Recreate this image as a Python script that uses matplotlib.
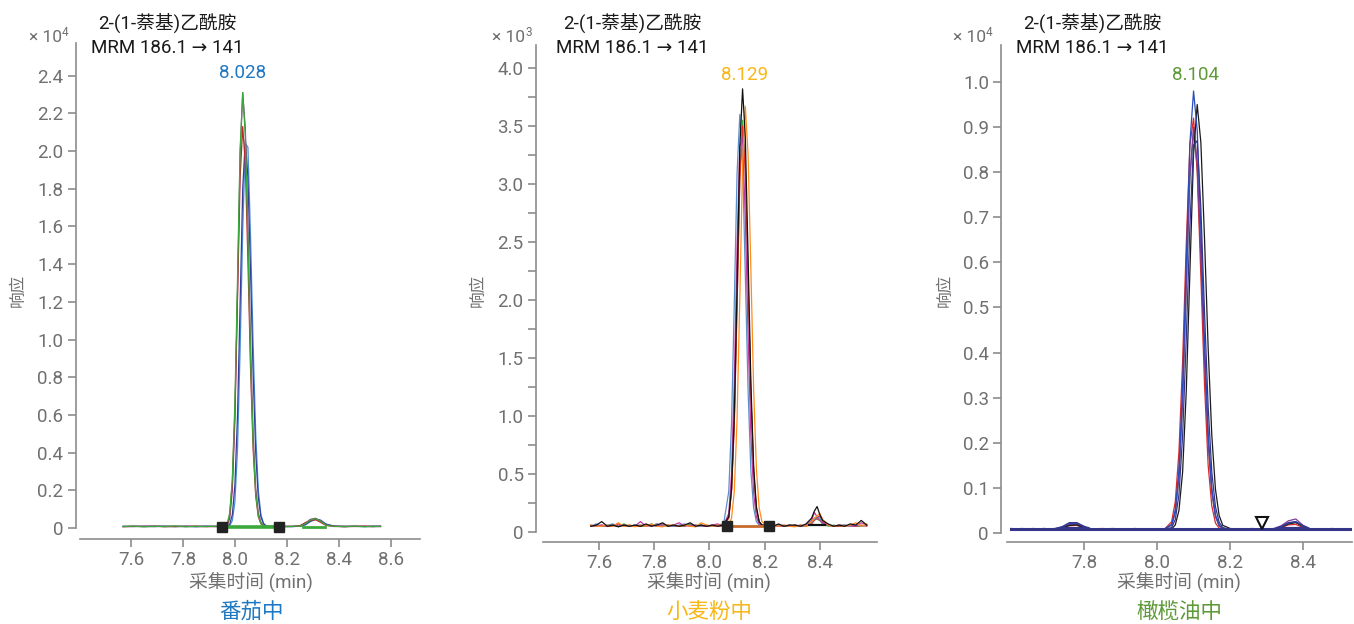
import matplotlib
matplotlib.use("Agg")
import matplotlib.pyplot as plt
import matplotlib.transforms as mtransforms
from matplotlib.ticker import FixedLocator, FuncFormatter

plt.rcParams["font.family"] = ["Roboto", "Noto Sans", "DejaVu Sans", "Noto Sans CJK SC"]

W, H = 1354, 624

compound = "2-(1-萘基)乙酰胺"
mrm = "MRM 186.1 → 141"
matrices = ["番茄中", "小麦粉中", "橄榄油中"]
matrix_colors = ["#1f78c1", "#f8b718", "#5f9a38"]
rts = [8.028, 8.129, 8.104]
exponents = ["4", "3", "4"]

# ---- panel 1: tomato (x 10^4) ----
t1 = [7.57, 7.61, 7.65, 7.69, 7.73, 7.77, 7.81, 7.85, 7.89, 7.93,
      7.95, 7.96, 7.97, 7.98, 7.99, 8.00, 8.01, 8.02, 8.03, 8.04,
      8.05, 8.06, 8.07, 8.08, 8.09, 8.10, 8.11, 8.12, 8.13,
      8.16, 8.19, 8.22,
      8.25, 8.27, 8.29, 8.31, 8.33, 8.35,
      8.38, 8.42, 8.46, 8.50, 8.53, 8.56]
p1_lightblue = [0.009, 0.008, 0.009, 0.010, 0.008, 0.009, 0.008, 0.009, 0.010, 0.008,
                0.008, 0.008, 0.008, 0.012, 0.040, 0.140, 0.420, 0.950, 1.580, 2.040,
                2.020, 1.550, 0.980, 0.500, 0.200, 0.070, 0.025, 0.012, 0.009,
                0.008, 0.009, 0.008,
                0.010, 0.016, 0.034, 0.047, 0.042, 0.022,
                0.011, 0.008, 0.009, 0.008, 0.009, 0.010]
p1_darkblue = [0.008, 0.009, 0.008, 0.008, 0.010, 0.008, 0.009, 0.007, 0.009, 0.008,
               0.008, 0.008, 0.009, 0.020, 0.070, 0.230, 0.600, 1.190, 1.800, 2.060,
               1.860, 1.370, 0.820, 0.400, 0.160, 0.060, 0.022, 0.011, 0.008,
               0.009, 0.008, 0.008,
               0.009, 0.018, 0.036, 0.046, 0.040, 0.020,
               0.010, 0.008, 0.009, 0.008, 0.010, 0.008]
p1_purple = [0.009, 0.008, 0.010, 0.008, 0.009, 0.007, 0.010, 0.008, 0.009, 0.008,
             0.008, 0.008, 0.012, 0.050, 0.200, 0.580, 1.250, 1.980, 2.310, 2.120,
             1.600, 0.980, 0.500, 0.210, 0.080, 0.030, 0.013, 0.009, 0.008,
             0.008, 0.009, 0.008,
             0.011, 0.024, 0.046, 0.052, 0.038, 0.017,
             0.008, 0.010, 0.008, 0.009, 0.007, 0.009]
p1_red = [0.007, 0.009, 0.008, 0.010, 0.007, 0.009, 0.008, 0.010, 0.007, 0.009,
          0.008, 0.009, 0.015, 0.070, 0.240, 0.620, 1.230, 1.860, 2.130, 1.930,
          1.420, 0.850, 0.420, 0.170, 0.060, 0.022, 0.011, 0.008, 0.008,
          0.010, 0.008, 0.009,
          0.012, 0.028, 0.040, 0.044, 0.030, 0.014,
          0.009, 0.007, 0.009, 0.010, 0.008, 0.009]
p1_green = [0.008, 0.010, 0.007, 0.009, 0.008, 0.011, 0.007, 0.009, 0.008, 0.010,
            0.008, 0.009, 0.020, 0.080, 0.260, 0.670, 1.330, 2.010, 2.310, 2.080,
            1.530, 0.910, 0.450, 0.180, 0.065, 0.025, 0.012, 0.009, 0.008,
            0.009, 0.007, 0.009,
            0.010, 0.022, 0.042, 0.050, 0.036, 0.016,
            0.009, 0.008, 0.010, 0.007, 0.009, 0.008]
p1_traces = [p1_lightblue, p1_darkblue, p1_purple, p1_red, p1_green]
p1_colors = ["#4a8fd6", "#30409a", "#8e3f8e", "#c0282d", "#3aa83a"]
p1_int = [7.95, 8.17]
p1_bump_int = [8.26, 8.345]
p1_base = 0.008

# ---- panel 2: wheat flour (x 10^3) ----
t2 = [7.57, 7.59, 7.61, 7.63, 7.65, 7.67, 7.69, 7.71, 7.73, 7.75,
      7.77, 7.79, 7.81, 7.83, 7.85, 7.87, 7.89, 7.91, 7.93, 7.95,
      7.97, 7.99, 8.01, 8.03, 8.05,
      8.07, 8.08, 8.09, 8.10, 8.11, 8.12, 8.13, 8.14, 8.15, 8.16, 8.17, 8.18, 8.19,
      8.21, 8.23, 8.25, 8.27, 8.29, 8.31, 8.33, 8.35, 8.37, 8.38,
      8.39, 8.40, 8.41, 8.43, 8.45, 8.47, 8.49, 8.51, 8.53, 8.55, 8.57]
p2_green = [0.05, 0.06, 0.05, 0.05, 0.06, 0.05, 0.07, 0.05, 0.06, 0.05,
            0.05, 0.07, 0.05, 0.06, 0.05, 0.06, 0.05, 0.05, 0.07, 0.05,
            0.06, 0.05, 0.05, 0.06, 0.07,
            0.13, 0.37, 0.95, 1.97, 3.08, 3.55, 3.15, 2.18, 1.20, 0.53, 0.20, 0.09, 0.06,
            0.05, 0.05, 0.06, 0.05, 0.05, 0.06, 0.05, 0.05, 0.08, 0.12,
            0.11, 0.10, 0.07, 0.05, 0.06, 0.05, 0.05, 0.06, 0.05, 0.05, 0.06]
p2_red = [0.06, 0.05, 0.06, 0.05, 0.05, 0.07, 0.05, 0.06, 0.05, 0.05,
          0.06, 0.05, 0.07, 0.05, 0.06, 0.05, 0.05, 0.06, 0.05, 0.06,
          0.05, 0.05, 0.06, 0.05, 0.05,
          0.12, 0.35, 0.93, 1.94, 3.03, 3.50, 3.10, 2.15, 1.18, 0.52, 0.20, 0.09, 0.06,
          0.05, 0.06, 0.05, 0.05, 0.06, 0.05, 0.06, 0.05, 0.07, 0.10,
          0.12, 0.14, 0.09, 0.06, 0.05, 0.05, 0.06, 0.05, 0.05, 0.06, 0.05]
p2_blue = [0.05, 0.07, 0.05, 0.06, 0.07, 0.05, 0.06, 0.05, 0.06, 0.06,
           0.05, 0.06, 0.07, 0.05, 0.06, 0.05, 0.06, 0.07, 0.05, 0.06,
           0.05, 0.06, 0.05, 0.06, 0.05,
           0.35, 0.94, 1.97, 3.09, 3.60, 3.19, 2.21, 1.22, 0.53, 0.21, 0.09, 0.06, 0.05,
           0.06, 0.05, 0.06, 0.05, 0.06, 0.05, 0.06, 0.05, 0.08, 0.11,
           0.13, 0.12, 0.08, 0.06, 0.05, 0.06, 0.06, 0.05, 0.06, 0.05, 0.06]
p2_magenta = [0.05, 0.05, 0.06, 0.05, 0.06, 0.05, 0.06, 0.05, 0.05, 0.09,
              0.05, 0.06, 0.05, 0.07, 0.05, 0.06, 0.08, 0.05, 0.06, 0.05,
              0.06, 0.05, 0.06, 0.07, 0.05,
              0.16, 0.50, 1.30, 2.45, 3.32, 3.40, 2.70, 1.70, 0.85, 0.34, 0.13, 0.07, 0.05,
              0.05, 0.06, 0.05, 0.06, 0.05, 0.06, 0.05, 0.06, 0.10, 0.17,
              0.13, 0.10, 0.08, 0.06, 0.05, 0.06, 0.05, 0.06, 0.05, 0.08, 0.06]
p2_orange = [0.06, 0.05, 0.05, 0.06, 0.05, 0.08, 0.05, 0.06, 0.045, 0.06,
             0.05, 0.07, 0.05, 0.045, 0.06, 0.06, 0.05, 0.06, 0.05, 0.045,
             0.08, 0.06, 0.05, 0.06, 0.05,
             0.06, 0.12, 0.35, 0.97, 2.01, 3.17, 3.67, 3.25, 2.27, 1.24, 0.55, 0.21, 0.09,
             0.05, 0.06, 0.05, 0.06, 0.05, 0.045, 0.06, 0.05, 0.09, 0.12,
             0.14, 0.16, 0.11, 0.06, 0.05, 0.06, 0.05, 0.06, 0.08, 0.05, 0.07]
p2_black = [0.05, 0.06, 0.09, 0.05, 0.06, 0.045, 0.06, 0.05, 0.06, 0.05,
            0.07, 0.05, 0.06, 0.08, 0.05, 0.06, 0.05, 0.06, 0.08, 0.05,
            0.06, 0.05, 0.06, 0.05, 0.06,
            0.13, 0.37, 1.00, 2.10, 3.32, 3.82, 3.40, 2.37, 1.29, 0.57, 0.22, 0.09, 0.06,
            0.06, 0.05, 0.07, 0.05, 0.06, 0.06, 0.05, 0.07, 0.12, 0.18,
            0.22, 0.15, 0.10, 0.07, 0.05, 0.06, 0.05, 0.07, 0.06, 0.10, 0.06]
p2_traces = [p2_green, p2_red, p2_blue, p2_magenta, p2_orange, p2_black]
p2_colors = ["#3aa83a", "#e0302a", "#5b8fc9", "#c0399f", "#ff8c1a", "#111111"]
p2_int = [8.065, 8.215]
p2_bump_int = [8.36, 8.42]
p2_base = 0.05

# ---- panel 3: olive oil (x 10^4) ----
t3 = [7.60, 7.63, 7.66, 7.69, 7.72, 7.74, 7.76, 7.78, 7.80, 7.82,
      7.85, 7.88, 7.91, 7.94, 7.97, 8.00, 8.02,
      8.04, 8.05, 8.06, 8.07, 8.08, 8.09, 8.10, 8.11, 8.12, 8.13,
      8.14, 8.15, 8.16, 8.17, 8.18,
      8.20, 8.23, 8.26, 8.29, 8.32, 8.34, 8.36, 8.38, 8.40, 8.42,
      8.45, 8.48, 8.51, 8.53]
p3_green = [0.008, 0.009, 0.008, 0.009, 0.009, 0.012, 0.018, 0.020, 0.013, 0.008,
            0.009, 0.010, 0.008, 0.009, 0.008, 0.008, 0.009,
            0.017, 0.046, 0.126, 0.294, 0.543, 0.786, 0.890, 0.811, 0.611, 0.384,
            0.202, 0.090, 0.037, 0.016, 0.010,
            0.009, 0.008, 0.009, 0.009, 0.008, 0.013, 0.021, 0.024, 0.015, 0.008,
            0.009, 0.008, 0.009, 0.008]
p3_red = [0.009, 0.008, 0.010, 0.008, 0.008, 0.012, 0.016, 0.017, 0.011, 0.008,
          0.010, 0.008, 0.009, 0.009, 0.008, 0.009, 0.008,
          0.025, 0.070, 0.180, 0.380, 0.640, 0.860, 0.920, 0.800, 0.570, 0.330,
          0.150, 0.060, 0.022, 0.011, 0.008,
          0.008, 0.009, 0.008, 0.010, 0.008, 0.012, 0.018, 0.019, 0.012, 0.009,
          0.008, 0.010, 0.008, 0.009]
p3_purple = [0.008, 0.010, 0.008, 0.009, 0.008, 0.012, 0.019, 0.020, 0.013, 0.009,
             0.008, 0.009, 0.008, 0.010, 0.008, 0.009, 0.008,
             0.018, 0.047, 0.128, 0.298, 0.549, 0.795, 0.900, 0.820, 0.618, 0.389,
             0.204, 0.091, 0.037, 0.016, 0.010,
             0.009, 0.008, 0.009, 0.008, 0.010, 0.016, 0.027, 0.031, 0.017, 0.009,
             0.008, 0.009, 0.008, 0.009]
p3_black = [0.008, 0.009, 0.008, 0.010, 0.008, 0.011, 0.017, 0.018, 0.012, 0.008,
            0.009, 0.008, 0.009, 0.008, 0.009, 0.008, 0.008,
            0.009, 0.018, 0.050, 0.135, 0.314, 0.580, 0.840, 0.950, 0.866, 0.653,
            0.410, 0.216, 0.097, 0.039, 0.017,
            0.010, 0.008, 0.009, 0.008, 0.009, 0.013, 0.020, 0.023, 0.014, 0.008,
            0.009, 0.008, 0.009, 0.008]
p3_blue = [0.010, 0.008, 0.009, 0.007, 0.009, 0.013, 0.021, 0.022, 0.014, 0.009,
           0.008, 0.009, 0.007, 0.008, 0.009, 0.008, 0.009,
           0.019, 0.051, 0.139, 0.324, 0.598, 0.865, 0.980, 0.893, 0.674, 0.423,
           0.222, 0.099, 0.040, 0.018, 0.010,
           0.009, 0.008, 0.010, 0.008, 0.009, 0.014, 0.022, 0.025, 0.015, 0.009,
           0.008, 0.009, 0.008, 0.009]
p3_navy = [0.009, 0.008, 0.009, 0.008, 0.010, 0.014, 0.023, 0.023, 0.015, 0.009,
           0.008, 0.009, 0.008, 0.009, 0.008, 0.009, 0.008,
           0.012, 0.030, 0.085, 0.215, 0.430, 0.680, 0.860, 0.870, 0.720, 0.490,
           0.280, 0.135, 0.058, 0.024, 0.012,
           0.008, 0.009, 0.008, 0.009, 0.008, 0.014, 0.023, 0.025, 0.016, 0.009,
           0.009, 0.008, 0.009, 0.008]
p3_traces = [p3_green, p3_red, p3_purple, p3_black, p3_blue, p3_navy]
p3_colors = ["#2e8b57", "#d62a2a", "#7d3c98", "#1a1a1a", "#2b4bbf", "#35358a"]
p3_bump_ints = [[7.74, 7.81], [8.34, 8.41]]
p3_flag = [8.288, 0.022]
p3_base = 0.008

GRAY_TXT = "#707070"
GRAY_AX = "#8c8c8c"

fig = plt.figure(figsize=(W / 100, H / 100), dpi=100)


def px(x, y):
    return x / W, 1 - y / H


def make_axes(left, top, right, bottom, xlim, ylim, xticks, yticks, yminor=None,
              left_off=3, bottom_off=5):
    ax = fig.add_axes([left / W, 1 - bottom / H, (right - left) / W, (bottom - top) / H])
    ax.set_xlim(*xlim)
    ax.set_ylim(*ylim)
    for s in ["top", "right"]:
        ax.spines[s].set_visible(False)
    ax.spines["left"].set_position(("outward", left_off))
    ax.spines["bottom"].set_position(("outward", bottom_off))
    ax.spines["left"].set_bounds(0, ylim[1])
    for s in ["left", "bottom"]:
        ax.spines[s].set_color(GRAY_AX)
        ax.spines[s].set_linewidth(1.2)
    ax.xaxis.set_major_locator(FixedLocator(xticks))
    ax.yaxis.set_major_locator(FixedLocator(yticks))
    if yminor is not None:
        ax.yaxis.set_minor_locator(FixedLocator(yminor))
    ax.xaxis.set_major_formatter(FuncFormatter(lambda v, p: "%.1f" % v))
    ax.yaxis.set_major_formatter(FuncFormatter(lambda v, p: "0" if abs(v) < 1e-9 else "%.1f" % v))
    ax.tick_params(which="both", direction="out", color=GRAY_AX, width=1.2,
                   labelcolor=GRAY_TXT, labelsize=13.5, pad=3)
    ax.tick_params(which="major", length=6)
    ax.tick_params(which="minor", length=6)
    return ax


def draw_traces(ax, t, traces, colors):
    for y, c in zip(traces, colors):
        ax.plot(t, y, color=c, lw=0.9, solid_joinstyle="round", clip_on=False)


ax1 = make_axes(80, 43, 420, 532, (7.404, 8.712), (-0.021, 2.573),
                [7.6, 7.8, 8.0, 8.2, 8.4, 8.6],
                [0, 0.2, 0.4, 0.6, 0.8, 1.0, 1.2, 1.4, 1.6, 1.8, 2.0, 2.2, 2.4],
                left_off=3, bottom_off=5)
draw_traces(ax1, t1, p1_traces, p1_colors)
ax1.plot(p1_int, [p1_base, p1_base], color="#3aa83a", lw=2.6, zorder=3)
ax1.plot(p1_bump_int, [p1_base, p1_base], color="#3aa83a", lw=2.0, zorder=3)
ax1.plot(p1_int, [p1_base, p1_base], ls="none", marker="s", ms=7, color="#222222", zorder=4,
         clip_on=False)

ax2 = make_axes(543, 45, 877, 536, (7.397, 8.607), (-0.034, 4.198),
                [7.6, 7.8, 8.0, 8.2, 8.4],
                [0, 0.5, 1.0, 1.5, 2.0, 2.5, 3.0, 3.5, 4.0],
                yminor=[0.25, 0.75, 1.25, 1.75, 2.25, 2.75, 3.25, 3.75],
                left_off=5, bottom_off=4)
draw_traces(ax2, t2, p2_traces, p2_colors)
ax2.plot(p2_int, [p2_base, p2_base], color="#c76a2a", lw=2.0, zorder=3)
ax2.plot(p2_bump_int, [p2_base + 0.01, p2_base + 0.01], color="#111111", lw=1.6, zorder=3)
ax2.plot(p2_int, [p2_base, p2_base], ls="none", marker="s", ms=7, color="#222222", zorder=4)

ax3 = make_axes(1007, 45, 1352, 536, (7.589, 8.534), (-0.0067, 1.082),
                [7.8, 8.0, 8.2, 8.4],
                [0, 0.1, 0.2, 0.3, 0.4, 0.5, 0.6, 0.7, 0.8, 0.9, 1.0],
                left_off=4, bottom_off=4)
draw_traces(ax3, t3, p3_traces, p3_colors)
ax3.plot([t3[0], t3[-1]], [p3_base, p3_base], color="#35358a", lw=2.2, zorder=3)
for seg in p3_bump_ints:
    ax3.plot(seg, [p3_base + 0.002, p3_base + 0.002], color="#35358a", lw=1.6, zorder=3)
ax3.plot([p3_flag[0]], [p3_flag[1]], ls="none", marker="v", ms=9, mfc="white",
         mec="#111111", mew=1.5, zorder=5)

axes = [ax1, ax2, ax3]

# text layout (pixel centres)
name_x = [167, 632, 1092]
exp_x = [29, 492, 953]
ylab_x = [18, 478, 945]
xlab_x = [251, 709, 1179]
rt_y = [73, 75, 75]

for i, ax in enumerate(axes):
    fig.text(*px(name_x[i], 23), compound, ha="center", va="center", fontsize=13.5,
             color="#1a1a1a")
    fig.text(*px(name_x[i], 48), mrm, ha="center", va="center", fontsize=13.5,
             color="#1a1a1a")
    fig.text(*px(exp_x[i], 38), "× 10", ha="left", va="center", fontsize=12.5,
             color=GRAY_TXT)
    fig.text(*px(exp_x[i] + 33, 33), exponents[i], ha="left", va="center", fontsize=8.5,
             color=GRAY_TXT)
    fig.text(*px(ylab_x[i], 290), "响应", rotation=90, ha="center", va="center",
             fontsize=12, color=GRAY_TXT)
    fig.text(*px(xlab_x[i], 582), "采集时间 (min)", ha="center", va="center",
             fontsize=13.5, color=GRAY_TXT)
    fig.text(*px(xlab_x[i], 612), matrices[i], ha="center", va="center",
             fontsize=15.5, color=matrix_colors[i])
    trans = mtransforms.blended_transform_factory(ax.transData, fig.transFigure)
    ax.text(rts[i], 1 - rt_y[i] / H, "%.3f" % rts[i], transform=trans, ha="center",
            va="center", fontsize=13.5, color=matrix_colors[i])

fig.savefig("out.png", dpi=100)
